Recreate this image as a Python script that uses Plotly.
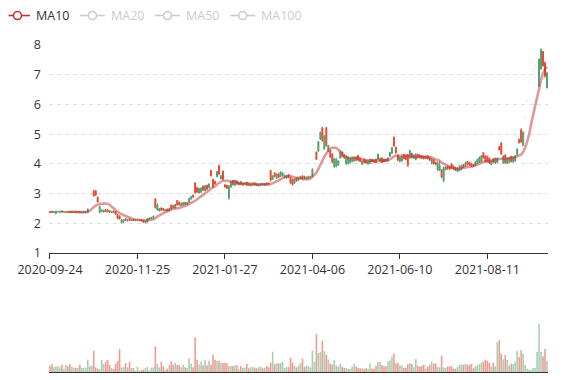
import plotly.graph_objects as go
import pandas as pd

# ---------------- data ----------------
tick_labels = ["2020-09-24", "2020-11-25", "2021-01-27", "2021-04-06", "2021-06-10", "2021-08-11"]
label_interval = 44  # categories between shown date labels

open_ = [
    2.40, 2.41, 2.36, 2.34, 2.38, 2.37, 2.42, 2.37, 2.36, 2.41,
    2.40, 2.36, 2.37, 2.40, 2.36, 2.40, 2.36, 2.37, 2.37, 2.38,
    2.72, 2.99, 3.08, 3.10, 2.88, 2.36, 2.40, 2.38, 2.46, 2.45,
    2.42, 2.36, 2.41, 2.40, 2.30, 2.25, 2.02, 2.05, 2.16, 2.08,
    2.15, 2.09, 2.14, 2.10, 2.11, 2.10, 2.13, 2.10, 2.02, 2.05,
    2.14, 2.16, 2.18, 2.82, 2.45, 2.42, 2.52, 2.50, 2.42, 2.48,
    2.42, 2.62, 2.60, 2.52, 2.77, 2.72, 2.60, 2.62, 2.70, 2.64,
    2.70, 2.82, 2.95, 3.36, 3.20, 3.02, 3.05, 3.25, 3.10, 3.28,
    3.20, 3.78, 3.48, 3.40, 3.57, 3.95, 3.50, 3.76, 3.30, 3.28,
    2.85, 3.22, 3.44, 3.28, 3.42, 3.30, 3.40, 3.30, 3.32, 3.38,
    3.34, 3.26, 3.28, 3.36, 3.32, 3.26, 3.28, 3.34, 3.28, 3.36,
    3.34, 3.78, 3.48, 3.70, 3.52, 3.66, 3.58, 3.60, 3.55, 3.52,
    3.64, 3.55, 3.48, 3.35, 3.52, 3.45, 3.50, 3.60, 3.58, 3.50,
    3.52, 3.54, 3.58, 4.20, 4.40, 4.43, 4.83, 5.22, 4.50, 5.22,
    4.42, 4.45, 4.33, 3.90, 3.92, 3.96, 4.20, 4.40, 4.30, 4.00,
    4.02, 4.05, 4.08, 4.10, 4.22, 4.28, 4.18, 3.98, 4.15, 4.12,
    4.00, 4.02, 4.15, 4.14, 4.16, 4.15, 4.10, 4.20, 4.15, 4.16,
    4.10, 4.25, 4.36, 4.90, 4.56, 4.30, 4.08, 4.10, 4.30, 4.28,
    4.30, 4.20, 4.36, 4.20, 4.15, 4.32, 4.30, 4.28, 4.26, 4.18,
    4.26, 4.22, 4.02, 4.14, 4.05, 3.80, 3.78, 3.80, 3.42, 3.80,
    3.92, 3.90, 4.00, 3.92, 3.88, 3.74, 3.78, 3.82, 3.98, 3.92,
    4.08, 4.05, 4.02, 3.98, 3.95, 4.02, 4.05, 4.08, 4.38, 4.28,
    4.25, 4.20, 3.98, 4.18, 4.02, 4.05, 4.58, 4.70, 4.02, 4.30,
    4.02, 4.05, 4.25, 4.06, 4.10, 4.30, 4.83, 5.15, 4.62, 5.57,
    6.13, 6.74, 7.41, 7.20, 7.30, 7.45, 6.62, 7.20, 7.78, 7.40,
    6.56,
]
high = [
    2.41, 2.42, 2.40, 2.43, 2.42, 2.42, 2.44, 2.41, 2.40, 2.42,
    2.41, 2.40, 2.40, 2.41, 2.40, 2.41, 2.39, 2.40, 2.40, 2.51,
    2.72, 2.99, 3.12, 3.13, 2.90, 2.59, 2.47, 2.46, 2.48, 2.47,
    2.44, 2.42, 2.43, 2.41, 2.31, 2.26, 2.15, 2.14, 2.17, 2.15,
    2.16, 2.14, 2.15, 2.14, 2.15, 2.14, 2.14, 2.11, 2.10, 2.18,
    2.20, 2.22, 2.26, 2.85, 2.68, 2.52, 2.54, 2.52, 2.48, 2.50,
    2.52, 2.64, 2.62, 2.66, 2.78, 2.74, 2.70, 2.72, 2.72, 2.72,
    2.86, 2.92, 2.97, 3.38, 3.22, 3.20, 3.22, 3.28, 3.30, 3.30,
    3.35, 3.80, 3.50, 3.45, 3.76, 3.97, 3.62, 3.78, 3.31, 3.30,
    3.29, 3.42, 3.46, 3.45, 3.44, 3.40, 3.42, 3.38, 3.38, 3.40,
    3.36, 3.34, 3.36, 3.37, 3.34, 3.33, 3.35, 3.36, 3.36, 3.38,
    3.38, 3.80, 3.62, 3.72, 3.68, 3.70, 3.75, 3.72, 3.64, 3.62,
    3.66, 3.56, 3.50, 3.52, 3.55, 3.56, 3.60, 3.61, 3.60, 3.58,
    3.60, 3.60, 3.85, 4.20, 4.41, 4.77, 5.09, 5.25, 4.97, 5.25,
    4.64, 4.47, 4.36, 4.20, 4.20, 4.12, 4.47, 4.42, 4.32, 4.28,
    4.25, 4.22, 4.22, 4.24, 4.24, 4.31, 4.20, 4.12, 4.17, 4.14,
    4.12, 4.18, 4.17, 4.16, 4.18, 4.35, 4.22, 4.22, 4.18, 4.18,
    4.22, 4.40, 4.57, 4.92, 4.58, 4.32, 4.25, 4.28, 4.32, 4.30,
    4.32, 4.48, 4.37, 4.32, 4.36, 4.34, 4.32, 4.30, 4.28, 4.28,
    4.28, 4.24, 4.20, 4.16, 4.08, 4.08, 4.10, 3.82, 3.91, 3.92,
    3.94, 3.92, 4.01, 3.95, 3.90, 3.90, 3.96, 3.98, 4.00, 4.08,
    4.10, 4.07, 4.04, 4.00, 4.10, 4.18, 4.25, 4.30, 4.40, 4.30,
    4.27, 4.22, 4.12, 4.20, 4.22, 4.22, 4.60, 4.73, 4.30, 4.32,
    4.22, 4.22, 4.28, 4.25, 4.30, 4.53, 4.85, 5.20, 5.10, 5.57,
    6.13, 6.74, 7.41, 7.20, 7.30, 7.45, 7.55, 7.89, 7.80, 7.45,
    7.10,
]
low = [
    2.35, 2.36, 2.35, 2.31, 2.37, 2.36, 2.37, 2.36, 2.35, 2.36,
    2.35, 2.35, 2.36, 2.36, 2.35, 2.35, 2.35, 2.36, 2.36, 2.36,
    2.72, 2.99, 2.90, 2.92, 2.70, 2.34, 2.38, 2.37, 2.38, 2.37,
    2.36, 2.35, 2.35, 2.30, 2.14, 2.13, 2.00, 2.02, 2.08, 2.07,
    2.08, 2.08, 2.09, 2.09, 2.10, 2.09, 2.07, 2.02, 2.00, 2.03,
    2.12, 2.14, 2.16, 2.50, 2.42, 2.40, 2.42, 2.42, 2.40, 2.40,
    2.41, 2.46, 2.50, 2.50, 2.60, 2.60, 2.58, 2.60, 2.62, 2.62,
    2.68, 2.80, 2.86, 3.01, 3.02, 3.00, 3.02, 3.08, 3.08, 3.12,
    3.18, 3.57, 3.20, 3.30, 3.55, 3.63, 3.48, 3.45, 3.20, 3.15,
    2.79, 3.20, 3.28, 3.26, 3.30, 3.28, 3.30, 3.27, 3.30, 3.26,
    3.26, 3.25, 3.27, 3.27, 3.25, 3.24, 3.27, 3.28, 3.27, 3.28,
    3.30, 3.40, 3.47, 3.55, 3.50, 3.52, 3.56, 3.58, 3.52, 3.50,
    3.52, 3.32, 3.28, 3.33, 3.40, 3.44, 3.48, 3.47, 3.48, 3.48,
    3.50, 3.52, 3.56, 4.20, 4.13, 4.41, 4.81, 4.75, 4.47, 4.58,
    4.40, 4.20, 4.03, 3.87, 3.88, 3.93, 4.18, 4.22, 4.18, 3.97,
    3.98, 4.00, 4.05, 4.07, 4.10, 4.10, 4.06, 3.96, 4.02, 4.00,
    3.97, 4.00, 4.05, 4.04, 4.02, 4.13, 4.05, 4.02, 4.05, 4.06,
    4.08, 4.23, 4.34, 4.58, 4.35, 4.10, 4.05, 4.08, 4.15, 4.12,
    3.90, 4.18, 4.18, 4.18, 4.12, 4.20, 4.18, 4.16, 4.15, 4.16,
    4.15, 4.10, 3.98, 3.98, 3.95, 3.76, 3.75, 3.52, 3.39, 3.78,
    3.80, 3.80, 3.84, 3.80, 3.76, 3.72, 3.76, 3.80, 3.86, 3.90,
    3.95, 3.94, 3.90, 3.90, 3.93, 4.00, 4.03, 4.05, 4.18, 4.05,
    4.05, 4.00, 3.95, 4.02, 4.00, 4.02, 4.45, 4.30, 4.00, 4.00,
    4.00, 4.02, 4.05, 4.04, 4.08, 4.28, 4.69, 4.70, 4.60, 5.57,
    6.13, 6.74, 7.41, 7.20, 7.30, 7.45, 6.58, 7.16, 7.27, 6.90,
    6.54,
]
close = [
    2.36, 2.37, 2.39, 2.41, 2.40, 2.41, 2.38, 2.40, 2.39, 2.37,
    2.36, 2.39, 2.39, 2.37, 2.39, 2.36, 2.38, 2.39, 2.39, 2.47,
    2.72, 2.99, 2.93, 2.95, 2.72, 2.57, 2.45, 2.44, 2.40, 2.39,
    2.38, 2.40, 2.37, 2.31, 2.16, 2.15, 2.12, 2.12, 2.10, 2.13,
    2.10, 2.12, 2.10, 2.12, 2.13, 2.12, 2.08, 2.04, 2.08, 2.16,
    2.18, 2.20, 2.24, 2.53, 2.62, 2.50, 2.44, 2.45, 2.46, 2.42,
    2.50, 2.50, 2.53, 2.64, 2.62, 2.62, 2.68, 2.70, 2.64, 2.70,
    2.84, 2.90, 2.88, 3.03, 3.05, 3.17, 3.18, 3.12, 3.26, 3.15,
    3.32, 3.60, 3.22, 3.33, 3.74, 3.66, 3.60, 3.48, 3.22, 3.18,
    3.25, 3.40, 3.30, 3.42, 3.32, 3.38, 3.32, 3.36, 3.36, 3.28,
    3.28, 3.32, 3.34, 3.29, 3.27, 3.31, 3.33, 3.30, 3.34, 3.30,
    3.32, 3.45, 3.60, 3.58, 3.65, 3.55, 3.73, 3.70, 3.62, 3.60,
    3.54, 3.35, 3.30, 3.50, 3.43, 3.54, 3.58, 3.50, 3.52, 3.56,
    3.58, 3.58, 3.82, 4.20, 4.15, 4.75, 5.06, 4.78, 4.94, 4.62,
    4.62, 4.23, 4.06, 4.18, 4.16, 4.10, 4.40, 4.25, 4.20, 4.25,
    4.22, 4.18, 4.20, 4.21, 4.12, 4.12, 4.08, 4.10, 4.05, 4.03,
    4.10, 4.15, 4.08, 4.07, 4.05, 4.32, 4.18, 4.05, 4.08, 4.10,
    4.20, 4.38, 4.55, 4.60, 4.37, 4.12, 4.22, 4.25, 4.18, 4.15,
    3.95, 4.45, 4.22, 4.30, 4.33, 4.23, 4.22, 4.20, 4.18, 4.26,
    4.17, 4.12, 4.16, 4.00, 3.98, 4.04, 3.95, 3.56, 3.88, 3.90,
    3.83, 3.82, 3.86, 3.82, 3.78, 3.86, 3.92, 3.95, 3.88, 4.05,
    3.98, 3.96, 3.92, 3.93, 4.06, 4.15, 4.22, 4.28, 4.20, 4.08,
    4.08, 4.03, 4.10, 4.05, 4.18, 4.20, 4.47, 4.33, 4.26, 4.04,
    4.18, 4.20, 4.08, 4.22, 4.26, 4.50, 4.71, 4.75, 5.06, 5.57,
    6.13, 6.74, 7.41, 7.20, 7.30, 7.45, 7.52, 7.85, 7.30, 6.95,
    7.06,
]
volume = [
    19, 24, 14, 17, 17, 14, 22, 10, 22, 17,
    24, 16, 13, 13, 13, 22, 13, 13, 13, 37,
    17, 19, 64, 14, 10, 9, 36, 24, 31, 36,
    21, 12, 9, 25, 33, 69, 14, 14, 27, 14,
    31, 12, 12, 4, 16, 4, 6, 7, 12, 15,
    5, 13, 14, 77, 24, 14, 31, 17, 6, 10,
    22, 31, 22, 28, 21, 21, 14, 21, 14, 12,
    42, 25, 14, 104, 37, 23, 31, 20, 37, 20,
    34, 22, 52, 37, 33, 34, 28, 27, 28, 26,
    18, 18, 18, 20, 20, 8, 18, 13, 13, 24,
    11, 14, 15, 13, 11, 15, 16, 11, 13, 18,
    14, 28, 61, 24, 26, 26, 27, 30, 12, 15,
    15, 43, 28, 19, 14, 20, 27, 40, 16, 19,
    18, 14, 64, 31, 115, 57, 60, 94, 62, 52,
    38, 25, 22, 36, 20, 16, 25, 16, 12, 12,
    10, 10, 16, 25, 17, 13, 11, 11, 10, 11,
    10, 25, 10, 10, 19, 30, 30, 21, 17, 17,
    32, 35, 46, 55, 26, 26, 20, 20, 13, 13,
    23, 27, 24, 14, 40, 19, 15, 18, 22, 10,
    16, 21, 31, 25, 26, 15, 14, 49, 14, 12,
    17, 17, 18, 10, 10, 16, 22, 22, 22, 25,
    22, 22, 24, 11, 18, 20, 24, 28, 31, 37,
    34, 27, 16, 28, 17, 90, 96, 55, 38, 51,
    36, 20, 25, 24, 31, 64, 45, 65, 55, 22,
    10, 7, 6, 12, 12, 61, 145, 61, 47, 69,
    34,
]
ma_periods = [10, 20, 50, 100]
ma_active = [10]

# ---------------- style ----------------
UP = "#52a06c"
DOWN = "#e24b35"
UP_VOL = "rgba(82,160,108,0.5)"
DOWN_VOL = "rgba(226,75,53,0.55)"
FLAT_LINE = "rgba(82,160,108,0.25)"
MA_COLOR = "#c23531"
MA_LINE = "rgba(194,53,49,0.5)"
OFF = "#cccccc"
TEXT = "#333333"
FONT = "Open Sans"
FS = 12.5

n = len(close)
x = list(range(n))
closes = pd.Series(close)

# page offset: the html body has an 8px margin, so figure px = page px - 8
OFS = 8
W, H = 577 - OFS, 380 - OFS
plot_left, plot_right = 49 - OFS, 547.6 - OFS
plot_top = 45 - OFS
price_bottom = 253.3 - OFS
vol_top, vol_bottom = 312.3 - OFS, 372.3 - OFS
ml, mr, mt, mb = plot_left, W - plot_right, plot_top, H - vol_bottom
pw, ph = W - ml - mr, H - mt - mb


def px_x(fx):
    return (fx - ml) / pw


def px_y(fy):
    return (H - mb - fy) / ph


# one-price days (open = high = low = close) are drawn almost invisibly, as in the source
flat = [o == h == l == c for o, h, l, c in zip(open_, high, low, close)]


def pick(vals, keep):
    return [v if k else None for v, k in zip(vals, keep)]


normal = [not f for f in flat]

fig = go.Figure()

fig.add_trace(go.Candlestick(
    x=x, open=pick(open_, normal), high=pick(high, normal),
    low=pick(low, normal), close=pick(close, normal),
    increasing=dict(line=dict(color=UP, width=1), fillcolor=UP),
    decreasing=dict(line=dict(color=DOWN, width=1), fillcolor=DOWN),
    whiskerwidth=0, showlegend=False, hoverinfo="skip",
    xaxis="x", yaxis="y",
))
fig.add_trace(go.Candlestick(
    x=x, open=pick(open_, flat), high=pick(high, flat),
    low=pick(low, flat), close=pick(close, flat),
    increasing=dict(line=dict(color=FLAT_LINE, width=0.6), fillcolor=FLAT_LINE),
    decreasing=dict(line=dict(color=FLAT_LINE, width=0.6), fillcolor=FLAT_LINE),
    whiskerwidth=0, showlegend=False, hoverinfo="skip",
    xaxis="x", yaxis="y",
))

vol_colors = [DOWN_VOL if o > c else UP_VOL for o, c in zip(open_, close)]
fig.add_trace(go.Bar(
    x=x, y=volume, marker=dict(color=vol_colors, line=dict(width=0)),
    showlegend=False, hoverinfo="skip", xaxis="x2", yaxis="y2",
))

for p in ma_periods:
    ma = closes.rolling(p).mean()
    ma[:p] = None
    yvals = [None if pd.isna(v) else round(float(v), 4) for v in ma]
    fig.add_trace(go.Scatter(
        x=x, y=yvals, mode="lines", name=f"MA{p}",
        line=dict(color=MA_LINE, width=2.6, shape="spline", smoothing=0.8),
        visible=True if p in ma_active else "legendonly",
        showlegend=False, hoverinfo="skip", xaxis="x", yaxis="y",
    ))

# legend (drawn like the ECharts legend: line + empty circle icon, then label)
shapes, annotations = [], []
leg_y = 15.5 - OFS
for k, p in enumerate(ma_periods):
    start = 5 + 75 * k - OFS
    active = p in ma_active
    col = MA_COLOR if active else OFF
    x0 = max(start, 0.5)
    cx = start + 12.5
    shapes.append(dict(type="line", xref="paper", yref="paper",
                       x0=px_x(x0), x1=px_x(start + 25), y0=px_y(leg_y), y1=px_y(leg_y),
                       line=dict(color=col, width=1.6), layer="above"))
    r = 4
    shapes.append(dict(type="circle", xref="paper", yref="paper",
                       x0=px_x(cx - r), x1=px_x(cx + r), y0=px_y(leg_y + r), y1=px_y(leg_y - r),
                       fillcolor="white", line=dict(color=col, width=1.6), layer="above"))
    annotations.append(dict(xref="paper", yref="paper", x=px_x(start + 30), y=px_y(leg_y),
                            xanchor="left", yanchor="middle", showarrow=False, borderpad=0,
                            text=f"MA{p}", font=dict(family=FONT, size=FS, color=TEXT if active else OFF)))

tick_pos = [i * label_interval for i in range(len(tick_labels))]

fig.update_layout(
    width=W, height=H,
    margin=dict(l=ml, r=mr, t=mt, b=mb, autoexpand=False),
    paper_bgcolor="white", plot_bgcolor="white",
    font=dict(family=FONT, size=FS, color=TEXT),
    showlegend=False,
    shapes=shapes, annotations=annotations,
    bargap=0.2,
    xaxis=dict(range=[-0.5, n - 0.5], showgrid=False, zeroline=False,
               showline=True, linecolor=TEXT, linewidth=1,
               ticks="outside", ticklen=5, tickcolor=TEXT,
               tickvals=tick_pos, ticktext=tick_labels,
               tickfont=dict(size=FS, color=TEXT), automargin=False,
               rangeslider=dict(visible=False), anchor="y"),
    yaxis=dict(domain=[px_y(price_bottom), 1], range=[1, 8], dtick=1,
               showgrid=True, gridcolor="#e0e0e0", griddash="4px,4px",
               zeroline=False, showline=False, ticks="", automargin=False,
               ticklabelstandoff=7, tickfont=dict(size=FS, color=TEXT),
               anchor="x"),
    xaxis2=dict(range=[-0.5, n - 0.5], showgrid=False, zeroline=False,
                showline=True, linecolor=TEXT, linewidth=1, automargin=False,
                showticklabels=False, ticks="", anchor="y2", matches="x"),
    yaxis2=dict(domain=[0, px_y(vol_top)], range=[0, 180],
                showgrid=False, zeroline=False, showline=False, automargin=False,
                showticklabels=False, ticks="", anchor="x2"),
)

fig.write_html("out.html")
